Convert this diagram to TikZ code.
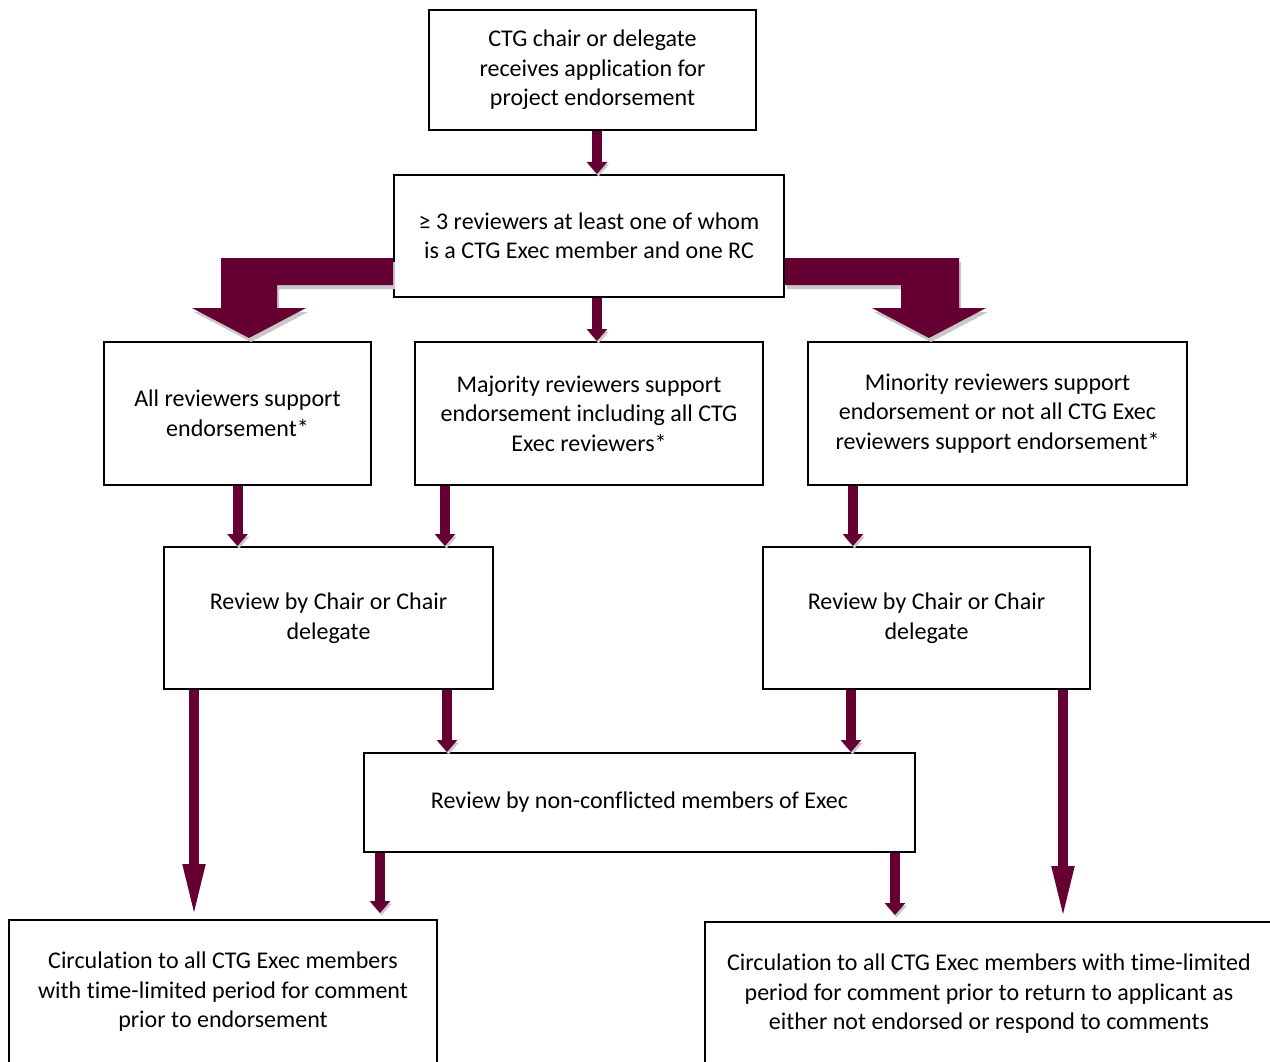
\documentclass[tikz,border=0pt]{standalone}
\usepackage{fontspec}
\setmainfont{Carlito}[Ligatures=NoCommon]
\usetikzlibrary{positioning}
\usetikzlibrary{arrows.meta}

\definecolor{arrowred}{HTML}{660033}
\definecolor{shadowgray}{HTML}{C8C8C8}

\begin{document}
\begin{tikzpicture}
		[x=1pt, y=-1pt,
		box/.style={draw=black, line width=2pt, align=center, inner sep=0pt, font=\fontsize{24}{29.5}\selectfont, node distance=43pt},
		flow/.style={draw=arrowred, line width=10pt, -{Triangle[width=20pt,length=12pt]}, preaction={draw=shadowgray, transform canvas={shift={(1.5pt,-2.5pt)}}}},
		longflow/.style={flow, -{Triangle[width=20pt,length=55pt]}, shorten >=0pt},
		bigarrow/.style={fill=arrowred, preaction={fill=shadowgray, transform canvas={shift={(2pt,-4pt)}}}}]
		\useasboundingbox (0,0) rectangle (1270,1062);
		\fill[white] (0,0) rectangle (1270,1062);
		\clip (0,0) rectangle (1270,1062);
		\node[box, minimum width=327pt, minimum height=120pt] (top) at (592.5,70) {CTG chair or delegate\\receives application for\\project endorsement};
		\node[box, below=of top, xshift=-3.5pt, minimum width=390pt, minimum height=122pt] (rev) {≥ 3 reviewers at least one of whom\\is a CTG Exec member and one RC};
		\node[box, below=of rev, minimum width=348pt, minimum height=143pt] (maj) {Majority reviewers support\\endorsement including all CTG\\Exec reviewers*};
		\node[box, left=44pt of maj, xshift=2pt, minimum width=267pt, minimum height=143pt] (all) {All reviewers support\\endorsement*};
		\node[box, right=43pt of maj, minimum width=379pt, minimum height=143pt] (min) {Minority reviewers support\\endorsement or not all CTG Exec\\reviewers support endorsement*};
		\node[box, minimum width=329pt, minimum height=142pt] (chairL) at (328.5,618) {Review by Chair or Chair\\delegate};
		\node[box, minimum width=327pt, minimum height=142pt] (chairR) at (926.5,618) {Review by Chair or Chair\\delegate};
		\node[box, minimum width=551pt, minimum height=99pt] (exec) at (639.5,802.5) {Review by non-conflicted members of Exec};
		\node[box, minimum width=428pt, minimum height=144pt] (circL) at (223,992) {Circulation to all CTG Exec members\\with time-limited period for comment\\prior to endorsement};
		\node[box, minimum width=568pt, minimum height=144pt] (circR) at (989,994) {Circulation to all CTG Exec members with time-limited\\period for comment prior to return to applicant as\\either not endorsed or respond to comments};
		% split arrows out of the reviewer box
		\path[bigarrow] ([yshift=-22pt]rev.west) -- ++(-172,0) -- ++(0,50) -- ++(-29,0) -- ++(57,30) -- ++(57,-30) -- ++(-29,0) -- ++(0,-23) -- ++(116,0) -- cycle;
		\path[bigarrow] ([yshift=-22pt]rev.east) -- ++(174,0) -- ++(0,50) -- ++(27,0) -- ++(-57,30) -- ++(-57,-30) -- ++(29,0) -- ++(0,-23) -- ++(-116,0) -- cycle;
		\draw[flow] ([xshift=4.5pt]top.south) -- ([xshift=4.5pt]top.south |- rev.north);
		\draw[flow] ([xshift=8pt]rev.south) -- ([xshift=8pt]rev.south |- maj.north);
		\draw[flow] (all.south) -- (all.south |- chairL.north);
		\draw[flow] ([xshift=31pt]maj.south west) -- ([xshift=31pt]maj.south west |- chairL.north);
		\draw[flow] ([xshift=46pt]min.south west) -- ([xshift=46pt]min.south west |- chairR.north);
		\draw[flow] ([xshift=-47pt]chairL.south east) -- ([xshift=-47pt]chairL.south east |- exec.north);
		\draw[flow] ([xshift=89pt]chairR.south west) -- ([xshift=89pt]chairR.south west |- exec.north);
		\draw[flow, shorten >=6pt] ([xshift=17pt]exec.south west) -- ([xshift=17pt]exec.south west |- circL.north);
		\draw[flow, shorten >=6pt] ([xshift=-21pt]exec.south east) -- ([xshift=-21pt]exec.south east |- circR.north);
		\draw[longflow] ([xshift=31pt]chairL.south west) -- ([xshift=31pt]chairL.south west |- circL.north);
		\draw[longflow] ([xshift=-28pt]chairR.south east) -- ([xshift=-28pt]chairR.south east |- circR.north);
	\end{tikzpicture}
\end{document}
